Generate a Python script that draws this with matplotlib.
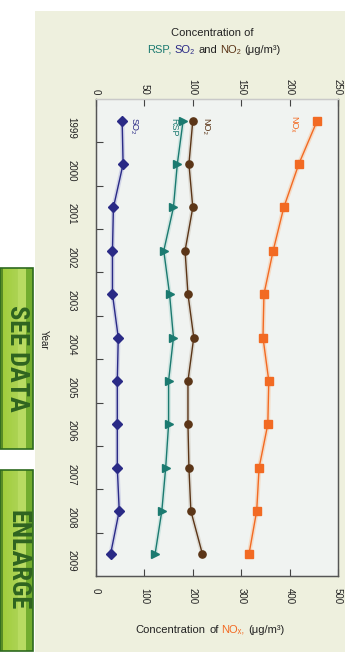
import matplotlib
matplotlib.use("Agg")
import matplotlib.pyplot as plt
from matplotlib import font_manager
from matplotlib.patches import Rectangle
import numpy as np

# ---- data -------------------------------------------------------------
years = [1999, 2000, 2001, 2002, 2003, 2004, 2005, 2006, 2007, 2008, 2009]
so2 = [27, 28, 18, 17, 17, 23, 22, 22, 22, 24, 15]
rsp = [90, 84, 80, 70, 76, 80, 75, 75, 72, 68, 61]
no2 = [100, 96, 100, 92, 95, 101, 95, 95, 96, 98, 110]
nox = [457, 419, 388, 366, 347, 345, 357, 355, 337, 332, 316]
top_ticks = [0, 50, 100, 150, 200, 250]
bottom_ticks = [0, 100, 200, 300, 400, 500]

# ---- style ------------------------------------------------------------
available = {f.name for f in font_manager.fontManager.ttflist}
narrow = next((f for f in ["Liberation Sans Narrow", "Roboto Condensed",
                           "DejaVu Sans Condensed", "Liberation Sans"]
               if f in available), "DejaVu Sans")
plt.rcParams["font.family"] = ["Liberation Sans", "DejaVu Sans"]

BEIGE = "#eef0de"
PLOT_BG = "#f0f3f1"
C_SO2 = "#2a2a86"
C_RSP = "#1b7a70"
C_NO2 = "#5b3517"
C_NOX = "#f26a23"
INK = "#222222"

W, H = 352, 657
fig = plt.figure(figsize=(W / 100, H / 100), dpi=100)
fig.patch.set_facecolor("white")


def fx(px):
    return px / W


def fy(py):
    return 1 - py / H


# beige backdrop
fig.patches.append(Rectangle((fx(35), fy(652)), fx(345 - 35), (652 - 11) / H,
                             transform=fig.transFigure, facecolor=BEIGE,
                             edgecolor="none", zorder=-3))

# green buttons
def button(y0, y1, label):
    x0, x1 = 0, 33
    n = 40
    for i in range(n):
        g = i / n
        if g < 0.1:
            c = (0.35, 0.55, 0.15)
        elif g < 0.55:
            c = (0.62 + 0.1 * g, 0.80 + 0.05 * g, 0.22 + 0.2 * g)
        elif g < 0.8:
            c = (0.72, 0.86, 0.38)
        else:
            c = (0.45, 0.68, 0.18)
        xa = x0 + (x1 - x0) * i / n
        fig.patches.append(Rectangle((fx(xa), fy(y1)), fx((x1 - x0) / n + 0.3),
                                     (y1 - y0) / H, transform=fig.transFigure,
                                     facecolor=c, edgecolor="none", zorder=-2))
    fig.patches.append(Rectangle((fx(x0), fy(y1)), fx(x1 - x0), (y1 - y0) / H,
                                 transform=fig.transFigure, facecolor="none",
                                 edgecolor="#2d6a1f", lw=1.2, zorder=-1))
    fig.text(fx(17), fy((y0 + y1) / 2), label, rotation=-90, ha="center",
             va="center", fontsize=19, fontweight="bold", color="#2f6420",
             family=[narrow, "DejaVu Sans"], zorder=3)


button(268, 449, "SEE DATA")
button(470, 651, "ENLARGE")

# ---- axes -------------------------------------------------------------
ax = fig.add_axes([fx(96), fy(576), fx(338 - 96), (576 - 99) / H])
ax.set_facecolor(PLOT_BG)
ax.set_xlim(0, 500)
ax.set_ylim(2009.5, 1998.5)
ax2 = ax.twiny()
ax2.set_xlim(0, 250)

for a in (ax, ax2):
    for s in a.spines.values():
        s.set_color("#555555")
        s.set_linewidth(0.9)
    a.spines["top"].set_color("#c9c9c9")

ax.set_xticks(bottom_ticks)
ax.set_xticklabels([str(t) for t in bottom_ticks], rotation=-90)
ax.tick_params(axis="x", direction="in", length=5, width=0.8, color="#444444",
               labelsize=7, pad=9, labelcolor=INK)
ax2.set_xticks(top_ticks)
ax2.set_xticklabels([str(t) for t in top_ticks], rotation=-90)
ax2.tick_params(axis="x", direction="in", length=5, width=0.8, color="#444444",
                labelsize=7, pad=3, labelcolor=INK)

ax.set_yticks(years)
ax.set_yticklabels([str(y) for y in years], rotation=-90)
ax.set_yticks([y + 0.5 for y in years[:-1]], minor=True)
ax.tick_params(axis="y", which="major", length=0, labelsize=7, pad=14,
               labelcolor=INK)
ax.tick_params(axis="y", which="minor", direction="in", length=5, width=0.8,
               color="#444444")

# ---- series -----------------------------------------------------------
def series(a, values, color, halo, marker, ms):
    a.plot(values, years, color=halo, lw=3.2, alpha=0.55,
           solid_capstyle="round", zorder=2)
    a.plot(values, years, color=color, lw=1.0, marker=marker, ms=ms,
           mec=color, mfc=color, zorder=3)


series(ax, nox, C_NOX, "#f8c8a4", "s", 5.2)
series(ax2, so2, C_SO2, "#b9bce0", "D", 5.2)
series(ax2, rsp, C_RSP, "#b9dcd6", ">", 5.2)
series(ax2, no2, C_NO2, "#cfc8bd", "o", 5.2)

lab = dict(rotation=-90, fontsize=6.5, textcoords="offset pixels", zorder=4)
ax2.annotate("SO₂", (so2[0], years[0]), xytext=(7, 3), color=C_SO2,
             ha="left", va="top", **lab)
ax2.annotate("RSP", (rsp[0], years[0]), xytext=(-5, 3), color=C_RSP,
             ha="right", va="top", **lab)
ax2.annotate("NO₂", (no2[0], years[0]), xytext=(8, 3), color=C_NO2,
             ha="left", va="top", **lab)
ax.annotate("NOₓ", (nox[0], years[0]), xytext=(-19, 5), color=C_NOX,
            ha="right", va="top", **lab)

# ---- titles -----------------------------------------------------------
renderer = fig.canvas.get_renderer()


def text_width(s, size):
    t = fig.text(0, 0, s, fontsize=size)
    w = t.get_window_extent(renderer).width
    t.remove()
    return w


def colored_line(pieces, cx, cy, size):
    gap = text_width("x x", size) - text_width("xx", size)
    widths = [text_width(s, size) for s, _ in pieces]
    total = sum(widths) + gap * (len(pieces) - 1)
    x = cx - total / 2
    for (s, c), w in zip(pieces, widths):
        fig.text(fx(x), fy(cy), s, color=c, fontsize=size, ha="left",
                 va="center")
        x += w + gap


fig.text(fx(212), fy(33), "Concentration of", fontsize=8, ha="center",
         va="center", color=INK)
colored_line([("RSP,", C_RSP), ("SO₂", C_SO2), ("and", INK), ("NO₂", C_NO2),
              ("(μg/m³)", INK)], 214, 50, 8)
colored_line([("Concentration", INK), ("of", INK), ("NOₓ,", C_NOX),
              ("(μg/m³)", INK)], 210, 630, 8)

fig.text(fx(44), fy(340), "Year", rotation=-90, fontsize=7, ha="center",
         va="center", color=INK)

fig.savefig("out.png", dpi=100, facecolor=fig.get_facecolor())
